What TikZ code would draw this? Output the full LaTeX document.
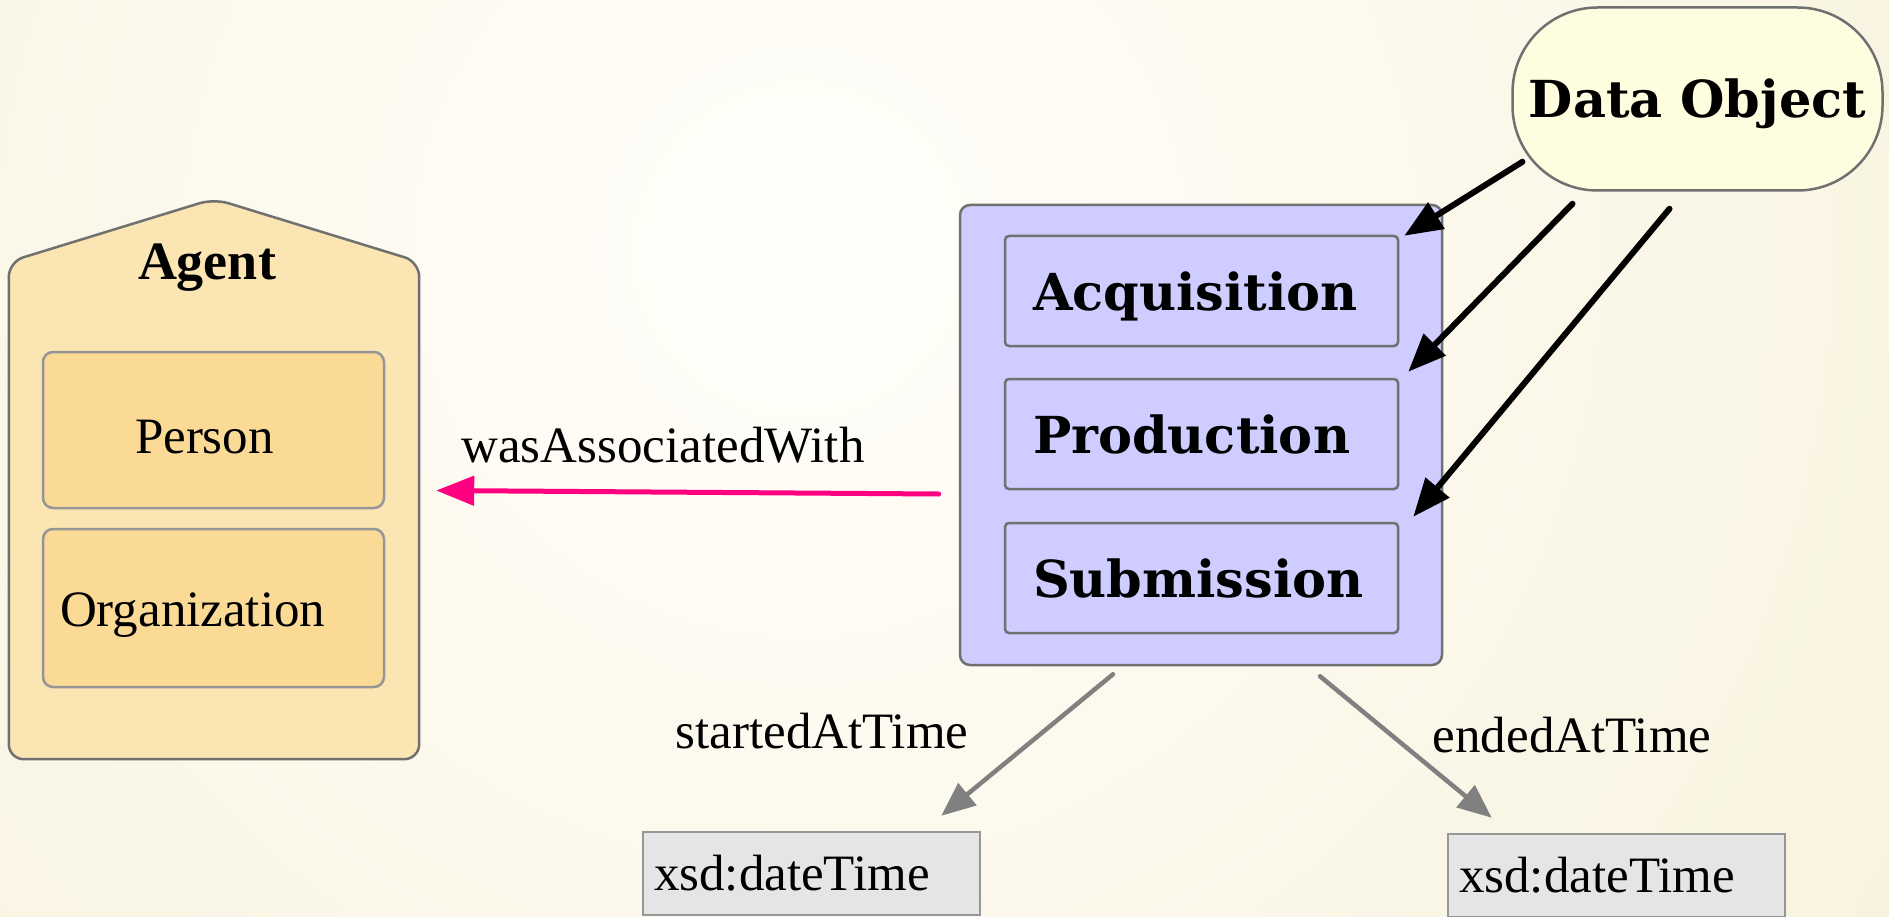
\documentclass[tikz,border=0pt]{standalone}
\usepackage{fontspec}
\setmainfont{Liberation Serif}
\newfontfamily\dvserif{DejaVu Serif}
\usetikzlibrary{arrows.meta,calc}
\definecolor{bgout}{RGB}{243,234,200}
\definecolor{bgin}{RGB}{255,254,250}
\definecolor{agentfill}{RGB}{251,229,178}
\definecolor{agentsub}{RGB}{251,218,150}
\definecolor{actfill}{RGB}{207,204,255}
\definecolor{dofill}{RGB}{255,253,224}
\definecolor{xsdfill}{RGB}{229,229,229}
\definecolor{assocpink}{RGB}{255,0,128}
\definecolor{bordergrey}{RGB}{112,112,112}
\definecolor{lightborder}{RGB}{150,150,150}
\definecolor{arrowgrey}{RGB}{128,128,128}
\tikzset{
  regtext/.style={font=\fontsize{51}{60}\selectfont},
  boldtext/.style={font=\fontsize{51}{60}\selectfont\dvserif\bfseries},
  agentshape/.style={draw=bordergrey, line width=2.5pt, fill=agentfill, rounded corners=15pt},
  subbox/.style={draw=lightborder, line width=2.5pt, fill=agentsub, rounded corners=10pt,
    minimum width=341pt, inner ysep=0pt, align=left, regtext},
  actouter/.style={draw=bordergrey, line width=2.5pt, fill=actfill, rounded corners=10pt},
  actbox/.style={draw=bordergrey, line width=2.5pt, fill=actfill, rounded corners=4pt,
    minimum height=110pt, text width=337pt, inner xsep=28pt, inner ysep=0pt, align=left,
    text height=50pt, text depth=12pt, boldtext},
  dobox/.style={draw=bordergrey, line width=2.5pt, fill=dofill, rounded corners=85pt,
    minimum width=370pt, minimum height=183pt, inner sep=0pt, text height=50pt, text depth=12pt, boldtext},
  xsdbox/.style={draw=lightborder, line width=2.5pt, fill=xsdfill, minimum height=83pt,
    text width=315pt, inner xsep=11pt, inner ysep=0pt, align=left, regtext},
  blackarrow/.style={draw=black, line width=6pt, line cap=round, -{Triangle[length=38pt,width=30pt]}},
  pinkarrow/.style={draw=assocpink, line width=5pt, line cap=round, -{Triangle[length=38pt,width=29pt]}},
  greyarrow/.style={draw=arrowgrey, line width=4.5pt, line cap=round, -{Triangle[length=34pt,width=28pt]}},
}
\begin{document}
\begin{tikzpicture}[x=1pt,y=-1pt]
\useasboundingbox (0,0) rectangle (1889,917);
\begin{scope}
  \clip (0,0) rectangle (1889,917);
  \shade[inner color=bgin, outer color=bgout] (800,250) circle (2300);
\end{scope}

% Agent
\node[minimum width=410pt, minimum height=497pt, inner sep=0pt] (agent) at (214,510.5) {};
\draw[agentshape] (agent.south west) -- (agent.north west) -- ($(agent.north)+(0,-63)$)
  -- (agent.north east) -- (agent.south east) -- cycle;
\node[font=\fontsize{54}{60}\selectfont\bfseries] (agentlabel) at (207,268) {Agent};
\node[subbox, minimum height=156pt, text width=157pt, inner xsep=92pt,
  text height=57pt, text depth=11pt] (person) at (213.5,430) {Person};
\node[subbox, minimum height=158pt, text width=307pt, inner xsep=17pt,
  text height=47pt, text depth=11pt] (org) at (213.5,608) {Organization};

% Activity
\node[actouter, minimum width=482pt, minimum height=460pt] (act) at (1201,435) {};
\node[actbox] (acq) at (1201.5,291) {Acquisition};
\node[actbox] (prod) at (1201.5,434) {Production};
\node[actbox] (sub) at (1201.5,578) {Submission};

% Data Object
\node[dobox] (dobj) at (1697.5,99) {Data Object};

% xsd boxes
\node[xsdbox] (xsd1) at (811.5,873.5) {xsd:dateTime};
\node[xsdbox] (xsd2) at (1616.5,875.5) {xsd:dateTime};

% labels
\node[regtext] (lblassoc) at (663,445) {wasAssociatedWith};
\node[regtext] (lblstart) at (822,731) {startedAtTime};
\node[regtext] (lblend) at (1572,735) {endedAtTime};

% connectors
\draw[blackarrow] ($(dobj.south)+(-175,-30)$) -- ($(acq.north east)+(5,1)$);
\draw[blackarrow] ($(dobj.south)+(-125,12)$) -- ($(prod.north east)+(9,-6)$);
\draw[blackarrow] ($(dobj.south)+(-28,17)$) -- ($(sub.north east)+(14,-5)$);
\draw[pinkarrow] ($(act.west)+(-20,59)$) -- ($(agent.east)+(17,-20)$);
\draw[greyarrow] ($(act.south)+(-88,8)$) -- ($(xsd1.north east)+(-40,-15)$);
\draw[greyarrow] ($(act.south)+(119,10)$) -- ($(xsd2.north west)+(45,-15)$);
\end{tikzpicture}
\end{document}
